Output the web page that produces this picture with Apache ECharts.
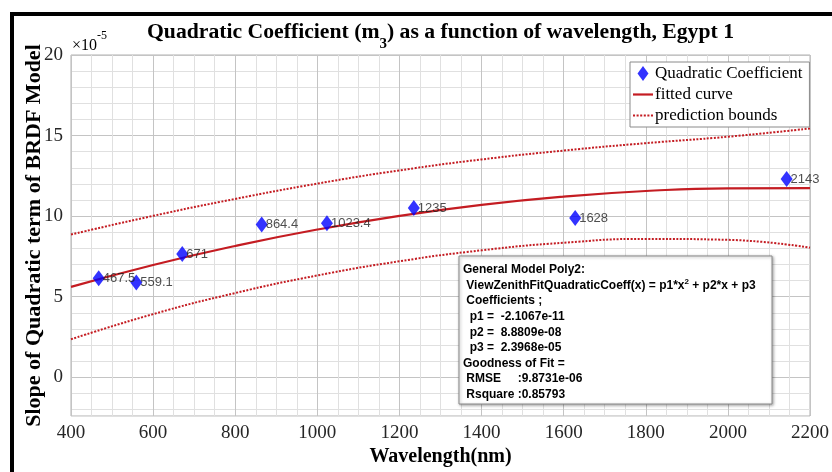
<!DOCTYPE html>
<html>
<head>
<meta charset="utf-8">
<script src="https://cdn.jsdelivr.net/npm/echarts@6/dist/echarts.min.js"></script>
<style>
  html, body { margin: 0; padding: 0; background: #fff; }
  #quad-chart { width: 832px; height: 472px; }
</style>
</head>
<body>
<div id="quad-chart"></div>
<script>
// measured points: wavelength (nm) and quadratic coefficient (x 1e-5)
const wavelengths = [467.5, 559.1, 671, 864.4, 1023.4, 1235, 1628, 2143];
const quadCoeff = [6.15, 5.89, 7.65, 9.48, 9.56, 10.5, 9.89, 12.3];

// fitted curve and prediction bounds, read every 200 nm
const fitWavelengths = [400, 600, 800, 1000, 1200, 1400, 1600, 1800, 2000, 2200];
const fittedCurve = [5.61, 6.97, 8.15, 9.17, 10.02, 10.70, 11.21, 11.56, 11.73, 11.74];
const upperBound = [8.86, 10.02, 11.07, 12.02, 12.84, 13.52, 14.07, 14.53, 14.93, 15.44];
const lowerBound = [2.36, 3.92, 5.23, 6.32, 7.20, 7.88, 8.35, 8.59, 8.53, 8.04];

const xTickLabels = [400, 600, 800, 1000, 1200, 1400, 1600, 1800, 2000, 2200];
const yTickLabels = [0, 5, 10, 15, 20];

const fitBoxLines = [
  "{n|General Model Poly2:}",
  "{n| ViewZenithFitQuadraticCoeff(x) = p1*x}{u|2}{n| + p2*x + p3}",
  "{n| Coefficients ;}",
  "{n|  p1 =  -2.1067e-11}",
  "{n|  p2 =  8.8809e-08}",
  "{n|  p3 =  2.3968e-05}",
  "{n|Goodness of Fit =}",
  "{n| RMSE     :9.8731e-06}",
  "{n| Rsquare :0.85793}"
];

const serif = "Liberation Serif";
const sans = "Liberation Sans";
const fitRed = "#c41c22";
const gridMajor = "#c4c4c4";
const gridMinor = "#e0e0e0";

// legend icons (a filled diamond, a solid stroke and a dotted stroke)
const diamondIcon = "path://M5.5,0L11,7.5L5.5,15L0,7.5Z";
const solidIcon = "path://M0,0H20V2.2H0Z";
const dottedIcon = "path://M0,0h2v2h-2z M3.5,0h2v2h-2z M7,0h2v2h-2z M10.5,0h2v2h-2z M14,0h2v2h-2z M17.5,0h2v2h-2z";

function pairs(xs, ys) {
  return xs.map((x, i) => [x, ys[i]]);
}

const myChart = echarts.init(document.getElementById("quad-chart"));

myChart.setOption({
  animation: false,
  backgroundColor: "#fff",
  title: {
    left: 147,
    top: 12,
    padding: 0,
    text: "{t|Quadratic Coefficient (m}{s|3}{t|) as a function of wavelength, Egypt 1}",
    textStyle: {
      rich: {
        t: { fontFamily: serif, fontWeight: "bold", fontSize: 21.7, color: "#000", lineHeight: 40 },
        s: { fontFamily: serif, fontWeight: "bold", fontSize: 15, color: "#000", verticalAlign: "bottom" }
      }
    }
  },
  grid: {
    left: 71,
    right: 20,
    top: 55,
    bottom: 53,
    show: true,
    borderColor: "#b0b0b0",
    borderWidth: 1
  },
  legend: {
    orient: "vertical",
    left: 630,
    top: 62,
    padding: [3, 7, 3, 3],
    itemGap: 4,
    itemWidth: 20,
    itemHeight: 15,
    backgroundColor: "#fff",
    borderColor: "#8a8a8a",
    borderWidth: 1,
    textStyle: { fontFamily: serif, fontSize: 17, color: "#000", padding: [0, 0, 0, -3] },
    data: [
      { name: "Quadratic Coefficient", icon: diamondIcon, itemStyle: { color: "#0000ff", borderWidth: 0 } },
      { name: "fitted curve", icon: solidIcon, itemStyle: { color: fitRed, borderWidth: 0 } },
      { name: "prediction bounds", icon: dottedIcon, itemStyle: { color: fitRed, borderWidth: 0 } }
    ]
  },
  xAxis: {
    type: "value",
    min: 400,
    max: 2200,
    interval: 50,
    name: "Wavelength(nm)",
    nameLocation: "middle",
    nameGap: 31,
    nameMoveOverlap: false,
    nameTextStyle: { fontFamily: serif, fontWeight: "bold", fontSize: 20, color: "#000" },
    axisLine: { show: false },
    axisTick: { show: false },
    axisLabel: {
      margin: 8,
      fontFamily: serif,
      fontSize: 19,
      color: "#262626",
      formatter: v => (xTickLabels.includes(v) ? String(v) : "")
    },
    splitLine: {
      show: true,
      lineStyle: { color: [gridMajor, gridMinor, gridMinor, gridMinor], width: 1 }
    }
  },
  yAxis: {
    type: "value",
    min: -2.4,
    max: 20,
    minInterval: 1,
    maxInterval: 1,
    name: "Slope of Quadratic term of BRDF Model",
    nameLocation: "middle",
    nameGap: 26,
    nameMoveOverlap: false,
    nameTextStyle: { fontFamily: serif, fontWeight: "bold", fontSize: 22, color: "#000" },
    axisLine: { show: false },
    axisTick: { show: false },
    axisLabel: {
      margin: 8,
      fontFamily: serif,
      fontSize: 19,
      color: "#262626",
      formatter: v => (yTickLabels.includes(v) ? String(v) : "")
    },
    splitLine: {
      show: true,
      lineStyle: { color: [gridMinor, gridMinor, gridMinor, gridMajor, gridMinor], width: 1 }
    }
  },
  graphic: [
    // outer black frame (top and left visible)
    { type: "rect", shape: { x: 10, y: 12, width: 822, height: 4 }, style: { fill: "#000" }, z: 100 },
    { type: "rect", shape: { x: 10, y: 12, width: 4, height: 460 }, style: { fill: "#000" }, z: 100 },
    // x10^-5 exponent
    {
      type: "text",
      x: 72,
      y: 30,
      style: {
        text: "{a|\u00d710}{b|-5}",
        rich: {
          a: { fontFamily: serif, fontSize: 16, color: "#262626", lineHeight: 32 },
          b: { fontFamily: serif, fontSize: 12, color: "#262626", verticalAlign: "top" }
        }
      },
      z: 100
    },
    // goodness of fit box
    {
      type: "rect",
      shape: { x: 459, y: 256, width: 313, height: 148 },
      style: {
        fill: "#fff",
        stroke: "#8a8a8a",
        lineWidth: 1,
        shadowBlur: 3,
        shadowOffsetX: 1,
        shadowOffsetY: 1,
        shadowColor: "rgba(0,0,0,0.35)"
      },
      z: 100
    },
    {
      type: "text",
      x: 463,
      y: 262,
      style: {
        text: fitBoxLines.join("\n"),
        rich: {
          n: { fontFamily: sans, fontWeight: "bold", fontSize: 12, color: "#1a1a1a", lineHeight: 15.6 },
          u: { fontFamily: sans, fontWeight: "bold", fontSize: 8, color: "#1a1a1a", verticalAlign: "top" }
        }
      },
      z: 101
    }
  ],
  series: [
    {
      name: "prediction bounds",
      type: "line",
      data: pairs(fitWavelengths, upperBound),
      smooth: true,
      symbol: "none",
      lineStyle: { color: fitRed, width: 2, type: [2, 1.5] },
      itemStyle: { color: fitRed },
      z: 2
    },
    {
      name: "prediction bounds",
      type: "line",
      data: pairs(fitWavelengths, lowerBound),
      smooth: true,
      symbol: "none",
      lineStyle: { color: fitRed, width: 2, type: [2, 1.5] },
      itemStyle: { color: fitRed },
      z: 2
    },
    {
      name: "fitted curve",
      type: "line",
      data: pairs(fitWavelengths, fittedCurve),
      smooth: true,
      symbol: "none",
      lineStyle: { color: fitRed, width: 2.2 },
      itemStyle: { color: fitRed },
      z: 3
    },
    {
      name: "Quadratic Coefficient",
      type: "scatter",
      data: pairs(wavelengths, quadCoeff),
      symbol: "diamond",
      symbolSize: [12, 16],
      itemStyle: { color: "#0000ff" },
      label: {
        show: true,
        position: "right",
        distance: -2,
        fontFamily: sans,
        fontSize: 13,
        color: "#222",
        formatter: p => String(p.value[0])
      },
      z: 4
    }
  ]
});
</script>
</body>
</html>
